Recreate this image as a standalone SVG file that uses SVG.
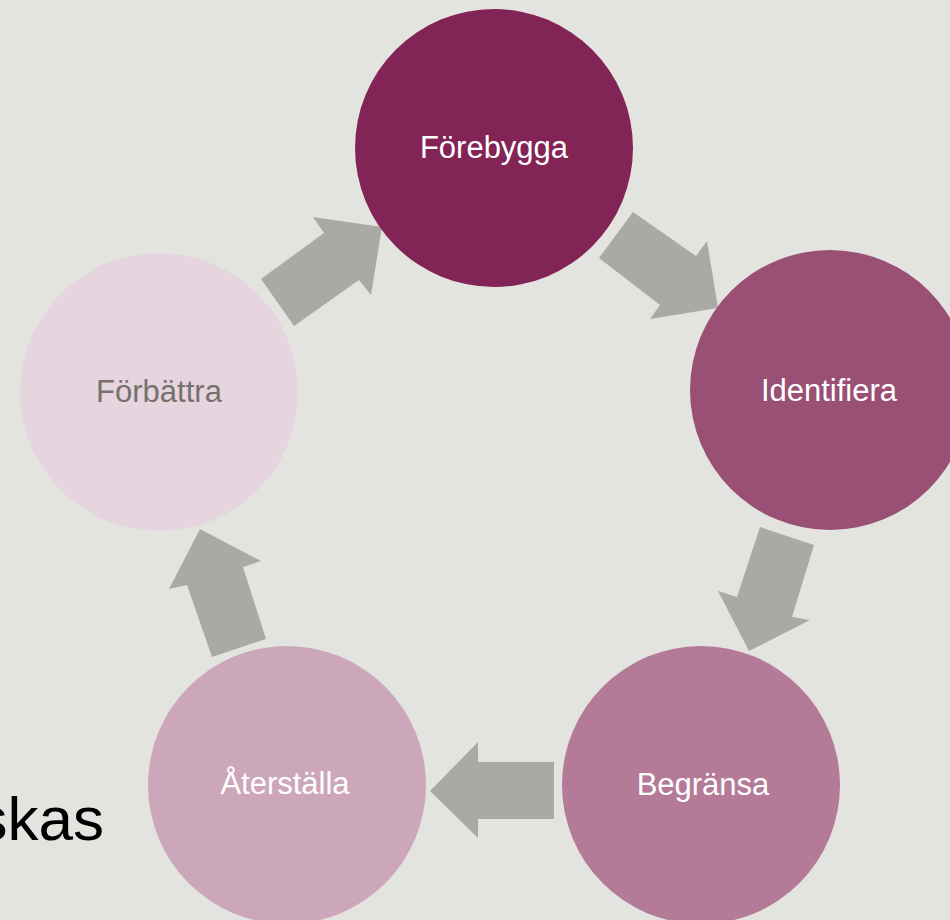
<svg xmlns="http://www.w3.org/2000/svg" width="950" height="920" viewBox="0 0 950 920">
<style>
.lbl{font-family:"Liberation Sans",Arial,sans-serif;font-size:31px;text-anchor:middle;fill:#FFFFFF}
.arr{fill:#A9A9A5}
</style>
<rect x="0" y="0" width="950" height="920" fill="#E3E4E0"/>
<text x="104" y="840" font-family="Liberation Sans, Arial, sans-serif" font-size="62" text-anchor="end" fill="#000000">skas</text>
<g id="connectors">
<polygon class="arr" points="261,279 294,326 359,280 371,295 382,227 313,217 324,233"/>
<polygon class="arr" points="633,212 696,256 707,241 718,308 650,319 660,305 599,258"/>
<polygon class="arr" points="760,527 814,545 792,617 810,620 749,651 718,591 737,597"/>
<polygon class="arr" points="554,762 554,819 478,819 478,838 430,791 478,742 478,762"/>
<polygon class="arr" points="212,657 266,639 243,567 261,561 200,529 169,589 187,585"/>
</g>
<g id="forebygga">
<circle cx="494" cy="148" r="139" fill="#832456"/>
<text class="lbl" x="494" y="158">Förebygga</text>
</g>
<g id="identifiera">
<circle cx="830" cy="390" r="140" fill="#9A5075"/>
<text class="lbl" x="829" y="401">Identifiera</text>
</g>
<g id="begransa">
<circle cx="701" cy="785" r="139" fill="#B47B98"/>
<text class="lbl" x="703" y="795">Begränsa</text>
</g>
<g id="aterstalla">
<circle cx="287" cy="785" r="139" fill="#CCA7BA"/>
<text class="lbl" x="285" y="794">Återställa</text>
</g>
<g id="forbattra">
<circle cx="159" cy="392" r="139" fill="#E6D4DE"/>
<text class="lbl" x="159" y="402" style="fill:#76716D">Förbättra</text>
</g>
</svg>
